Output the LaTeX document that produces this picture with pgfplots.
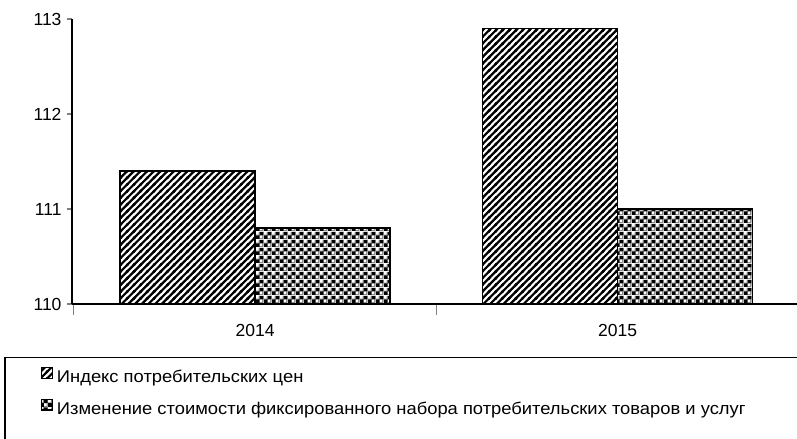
\documentclass[border=0pt]{standalone}
\usepackage{fontspec}
\setmainfont{Liberation Sans}
\newfontfamily\legfont[FakeStretch=1.08]{Liberation Sans}
\usepackage{pgfplots}
\pgfplotsset{compat=1.18}
\usetikzlibrary{patterns}
\pgfdeclarepatternformonly{diaglines}{\pgfqpoint{-1bp}{-1bp}}{\pgfqpoint{7.7bp}{7.7bp}}{\pgfqpoint{6.7bp}{6.7bp}}{%
  \pgfsetlinewidth{2.2bp}%
  \pgfpathmoveto{\pgfqpoint{-1bp}{-1bp}}\pgfpathlineto{\pgfqpoint{7.7bp}{7.7bp}}%
  \pgfpathmoveto{\pgfqpoint{-1bp}{5.7bp}}\pgfpathlineto{\pgfqpoint{1bp}{7.7bp}}%
  \pgfpathmoveto{\pgfqpoint{5.7bp}{-1bp}}\pgfpathlineto{\pgfqpoint{7.7bp}{1bp}}%
  \pgfusepath{stroke}}
\pgfdeclarepatterninherentlycolored{checker}{\pgfqpoint{0bp}{0bp}}{\pgfqpoint{8bp}{8bp}}{\pgfqpoint{8bp}{8bp}}{%
  \pgfsetfillcolor{white}%
  \pgfpathrectangle{\pgfqpoint{0bp}{0bp}}{\pgfqpoint{8bp}{8bp}}\pgfusepath{fill}%
  \pgfsetfillcolor{black!45}%
  \pgfpathrectangle{\pgfqpoint{0bp}{4bp}}{\pgfqpoint{4bp}{1bp}}%
  \pgfpathrectangle{\pgfqpoint{4bp}{0bp}}{\pgfqpoint{4bp}{1bp}}%
  \pgfpathrectangle{\pgfqpoint{3bp}{4bp}}{\pgfqpoint{1bp}{4bp}}%
  \pgfpathrectangle{\pgfqpoint{7bp}{0bp}}{\pgfqpoint{1bp}{4bp}}%
  \pgfusepath{fill}%
  \pgfsetfillcolor{black}%
  \pgfpathrectangle{\pgfqpoint{0bp}{0bp}}{\pgfqpoint{4bp}{4bp}}%
  \pgfpathrectangle{\pgfqpoint{4bp}{4bp}}{\pgfqpoint{4bp}{4bp}}%
  \pgfusepath{fill}}
\begin{document}
\begin{tikzpicture}[x=1bp,y=1bp]
\useasboundingbox (0,0) rectangle (797,439);
\begin{axis}[
  at={(72bp,135bp)}, anchor=south west,
  scale only axis, width=725bp, height=285bp,
  xmin=-0.505, xmax=1.495, ymin=110, ymax=113,
  axis x line=bottom, axis y line=left,
  axis line style={line width=1.3bp, -},
  ybar=0pt, bar width=135bp,
  xtick={0,1}, xticklabels={2014,2015},
  major x tick style={draw=none},
  minor xtick={-0.5,0.5,1.5},
  minor x tick style={line width=1.3bp},
  minor tick length=11bp,
  ytick={110,111,112,113},
  major tick length=5bp,
  y tick style={line width=1.3bp},
  tick align=outside,
  /pgf/number format/assume math mode=true,
  ticklabel style={font=\fontsize{17.5bp}{20bp}\selectfont},
  yticklabel style={xshift=-2bp},
  xticklabel style={yshift=-12bp},
  legend style={draw=none, fill=none, at={(axis description cs:-0.0428,-0.221)}, anchor=north west,
    inner sep=0pt, row sep=12bp, column sep=4bp,
    font=\legfont\fontsize{17bp}{20bp}\selectfont,
    nodes={inner sep=0pt, text height=12bp, text depth=4bp}},
  legend cell align=left,
]
\addplot[draw=black, line width=1.3bp, pattern=diaglines,
  legend image code/.code={\draw[draw=black, line width=1.3bp, pattern=diaglines] (0bp,0.5bp) rectangle (10.5bp,11bp);}]
  coordinates {(0,111.4) (1,112.9)};
\addplot[draw=black, line width=1.3bp, pattern=checker,
  legend image code/.code={\draw[draw=black, line width=1.3bp, pattern=checker] (0bp,0.5bp) rectangle (10.5bp,11bp);}]
  coordinates {(0,110.8) (1,111.0)};
\legend{Индекс потребительских цен, Изменение стоимости фиксированного набора потребительских товаров и услуг}
\end{axis}
\draw[line width=1.3bp] (5,-20) -- (5,81.5) -- (820,81.5);
\end{tikzpicture}
\end{document}
